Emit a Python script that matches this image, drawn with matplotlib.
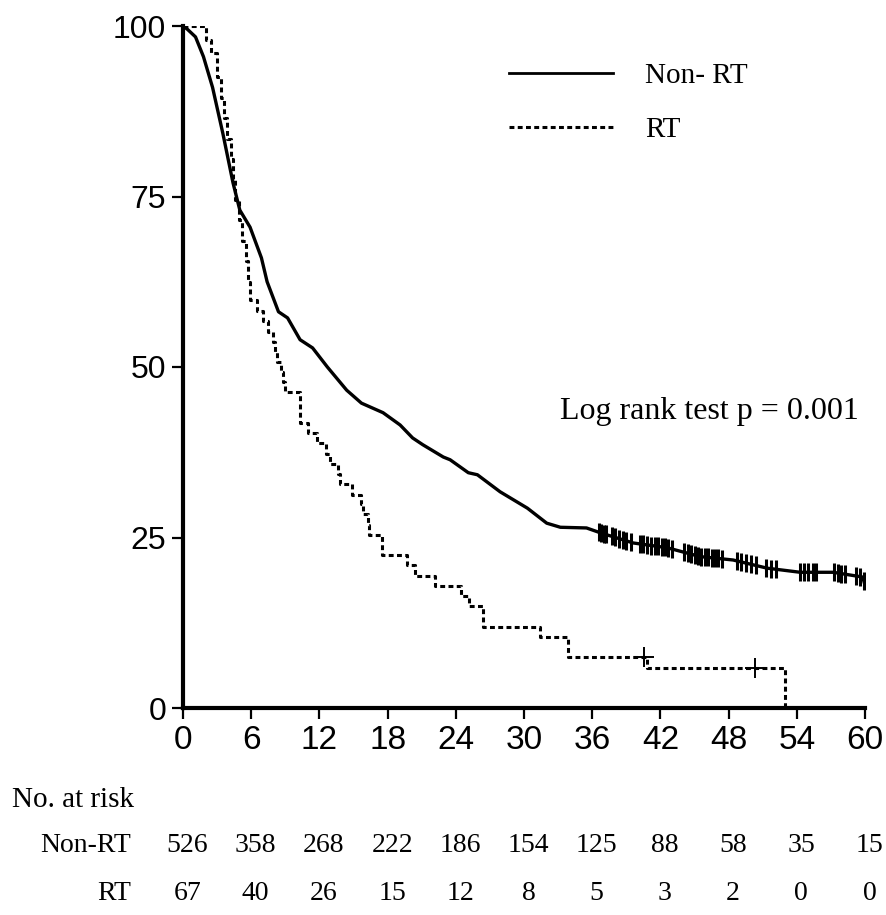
import numpy as np
import matplotlib
matplotlib.use("Agg")
import matplotlib.pyplot as plt
from matplotlib.transforms import blended_transform_factory

# ---------------- data ----------------
nonrt_t = [0, 0.4, 1.1, 1.8, 2.6, 3.5, 4.4, 5.0, 5.9, 6.9, 7.4, 8.4, 9.2, 10.3, 11.4,
           12.7, 14.4, 15.7, 17.6, 19.1, 20.2, 21.1, 22.9, 23.5, 25.1, 25.9, 27.9,
           30.3, 32.0, 33.2, 35.5, 36.7, 39.6, 42.6, 45.5, 48.4, 51.4, 54.3, 57.2,
           59.8, 60]
nonrt_s = [100, 99.5, 98.4, 95.5, 91, 84.3, 77, 73, 70.5, 66, 62.5, 58.1, 57.2, 54,
           52.8, 50, 46.6, 44.7, 43.3, 41.5, 39.6, 38.6, 36.8, 36.4, 34.5, 34.2, 31.7,
           29.3, 27.1, 26.5, 26.4, 25.7, 24.2, 23.5, 22.2, 21.7, 20.5, 19.9, 19.9,
           19.2, 18]
nonrt_censor = [36.6, 36.8, 37.0, 37.2, 37.7, 38.0, 38.4, 38.7, 39.0, 39.4, 40.2,
                40.5, 40.8, 41.2, 41.5, 41.8, 42.1, 42.4, 42.7, 43.0, 44.1, 44.4,
                44.7, 45.0, 45.3, 45.6, 45.9, 46.2, 46.5, 46.8, 47.1, 47.4, 48.7,
                49.1, 49.5, 50.0, 50.4, 51.3, 51.7, 52.2, 54.3, 54.6, 55.0, 55.4,
                55.7, 57.3, 57.6, 57.9, 58.2, 59.2, 59.6, 59.9]

rt_t = [0, 2.0, 2.5, 3.0, 3.3, 3.6, 3.9, 4.2, 4.4, 4.6, 4.9, 5.2, 5.5, 5.7, 5.9,
        6.5, 7.0, 7.5, 7.9, 8.1, 8.3, 8.6, 8.8, 9.0, 10.3, 11.0, 11.8, 12.6, 12.9,
        13.6, 13.8, 14.9, 15.7, 15.8, 16.3, 16.4, 17.5, 19.7, 20.4, 22.2, 24.5,
        25.2, 26.4, 31.4, 33.9, 40.8, 53.0]
rt_s = [100, 98, 96, 92.5, 89.5, 86.5, 83.5, 80.5, 77.5, 74.5, 71.5, 68.5, 65.5,
        62.5, 59.8, 58.2, 56.7, 55.2, 53.7, 52.2, 50.7, 49.2, 47.8, 46.3, 41.8,
        40.3, 38.8, 37.3, 35.8, 34.3, 32.8, 31.3, 29.9, 28.4, 26.9, 25.4, 22.4,
        20.9, 19.4, 17.9, 16.4, 14.9, 11.9, 10.4, 7.5, 5.9, 0]
rt_censor_t = [40.6, 50.3]
rt_censor_s = [7.5, 5.9]

x_ticks = [0, 6, 12, 18, 24, 30, 36, 42, 48, 54, 60]
y_ticks = [0, 25, 50, 75, 100]
risk_nonrt = [526, 358, 268, 222, 186, 154, 125, 88, 58, 35, 15]
risk_rt = [67, 40, 26, 15, 12, 8, 5, 3, 2, 0, 0]

# ---------------- figure ----------------
fig = plt.figure(figsize=(8.86, 9.15), dpi=100)
ax = fig.add_axes([183 / 886, 1 - 708 / 915, (865 - 183) / 886, (708 - 26) / 915])

serif = ["Liberation Serif", "DejaVu Serif"]
sans = ["Liberation Sans", "DejaVu Sans"]

ax.plot(nonrt_t, nonrt_s, color="black", lw=2.4, solid_joinstyle="round",
        label="Non- RT", zorder=3)
ax.plot(nonrt_censor, np.interp(nonrt_censor, nonrt_t, nonrt_s), ls="none",
        marker="|", ms=13, mew=2.2, color="black", zorder=3)

ax.step(rt_t, rt_s, where="post", color="black", lw=2.2,
        ls=(0, (1.6, 1.1)), label="RT", zorder=3)
ax.plot(rt_censor_t, rt_censor_s, ls="none", marker="+", ms=14, mew=1.4,
        color="black", zorder=3)

ax.set_xlim(0, 60)
ax.set_ylim(0, 100)
ax.set_xticks(x_ticks)
ax.set_yticks(y_ticks)
for s in ["top", "right"]:
    ax.spines[s].set_visible(False)
for s in ["left", "bottom"]:
    ax.spines[s].set_linewidth(3)
    ax.spines[s].set_capstyle("projecting")
ax.tick_params(axis="both", direction="out", length=8, width=1.6, pad=4)
for lab in ax.get_yticklabels():
    lab.set_fontfamily(sans)
    lab.set_fontsize(23)
for lab in ax.get_xticklabels():
    lab.set_fontfamily(sans)
    lab.set_fontsize(24)

leg = ax.legend(loc="upper left", bbox_to_anchor=(0.44, 0.985), frameon=False,
                prop={"family": serif, "size": 21}, handlelength=3.55,
                handletextpad=1.1, labelspacing=0.95)
leg.get_lines()[0].set_linewidth(2.0)
leg.get_lines()[1].set_linewidth(2.2)

ax.text(46.3, 43.5, "Log rank test p = 0.001", ha="center", va="center",
        fontsize=23, family=serif)

# ---------------- number at risk table ----------------
tr = blended_transform_factory(ax.transData, fig.transFigure)
fig.text(12 / 886, 1 - 800 / 915, "No. at risk", ha="left", va="center",
         fontsize=21, family=serif)
fig.text(131 / 886, 1 - 846 / 915, "Non-RT", ha="right", va="center",
         fontsize=20, family=serif)
fig.text(131 / 886, 1 - 893 / 915, "RT", ha="right", va="center",
         fontsize=20, family=serif)
for xt, a, b in zip(x_ticks, risk_nonrt, risk_rt):
    ax.text(xt + 0.4, 1 - 846 / 915, str(a), transform=tr, ha="center",
            va="center", fontsize=20, family=serif, clip_on=False)
    ax.text(xt + 0.4, 1 - 893 / 915, str(b), transform=tr, ha="center",
            va="center", fontsize=20, family=serif, clip_on=False)

fig.savefig("out.png", dpi=100)
